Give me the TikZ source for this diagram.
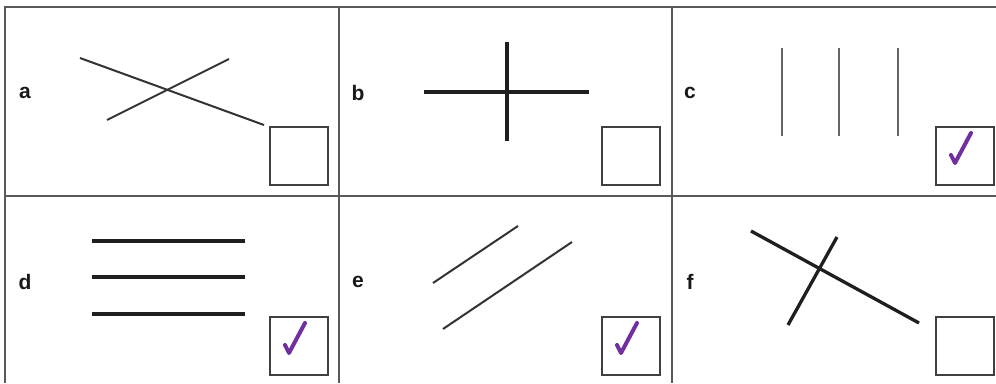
\documentclass[tikz,border=0pt]{standalone}
\usepackage{fontspec}
\setmainfont{Liberation Sans}
\begin{document}
\begin{tikzpicture}[x=1pt,y=-1pt,
  grid/.style={draw=black!65,line width=1.5pt},
  lbl/.style={font=\fontsize{21}{24}\selectfont\bfseries,text=black!90,inner sep=0pt},
  tickbox/.style={draw=black!75,line width=1.7pt,fill=white,minimum width=58pt,minimum height=58pt,inner sep=0pt,anchor=north west},
  thin/.style={draw=black!80,line width=2pt},
  thick/.style={draw=black!88,line width=3.3pt},
  grey/.style={draw=black!60,line width=2.6pt},
  tick/.style={draw=tickpurple,line width=4pt,line cap=round,line join=round}]
\definecolor{tickpurple}{HTML}{7030A0}
\useasboundingbox[fill=white] (0,0) rectangle (996,383);
% grid
\draw[grid] (5,383) -- (5,7) -- (996,7);
\draw[grid] (339,7) -- (339,383);
\draw[grid] (672,7) -- (672,383);
\draw[grid] (5,196) -- (996,196);
% labels
\node[lbl] (la) at (25,93) {a};
\node[lbl] (lb) at (358,93) {b};
\node[lbl] (lc) at (690,93) {c};
\node[lbl] (ld) at (25,282) {d};
\node[lbl] (le) at (358,282) {e};
\node[lbl] (lf) at (690,282) {f};
% boxes
\node[tickbox] (ba) at (269,126) {};
\node[tickbox] (bb) at (601,126) {};
\node[tickbox] (bc) at (935,126) {};
\node[tickbox] (bd) at (269,316) {};
\node[tickbox] (be) at (601,316) {};
\node[tickbox] (bf) at (935,316) {};
% a
\draw[thin] (80,58) -- (264,125);
\draw[thin] (107,120) -- (229,59);
% b
\draw[thick] (424,92) -- (589,92);
\draw[thick] (507,42) -- (507,141);
% c
\draw[grey] (782,48) -- (782,136);
\draw[grey] (839,48) -- (839,136);
\draw[grey] (898,48) -- (898,136);
% d
\draw[thick,line width=3.8pt] (92,241) -- (245,241);
\draw[thick,line width=3.8pt] (92,277) -- (245,277);
\draw[thick,line width=3.8pt] (92,314) -- (245,314);
% e
\draw[thin] (433,283) -- (518,226);
\draw[thin] (443,329) -- (572,242);
% f
\draw[thick] (751,231) -- (919,323);
\draw[thick] (788,325) -- (837,237);
% ticks
\draw[tick] ([shift={(16,29)}]bc.north west) -- ([shift={(20,37)}]bc.north west) -- ([shift={(36,7)}]bc.north west);
\draw[tick] ([shift={(16,29)}]bd.north west) -- ([shift={(20,37)}]bd.north west) -- ([shift={(36,7)}]bd.north west);
\draw[tick] ([shift={(16,29)}]be.north west) -- ([shift={(20,37)}]be.north west) -- ([shift={(36,7)}]be.north west);
\end{tikzpicture}
\end{document}
